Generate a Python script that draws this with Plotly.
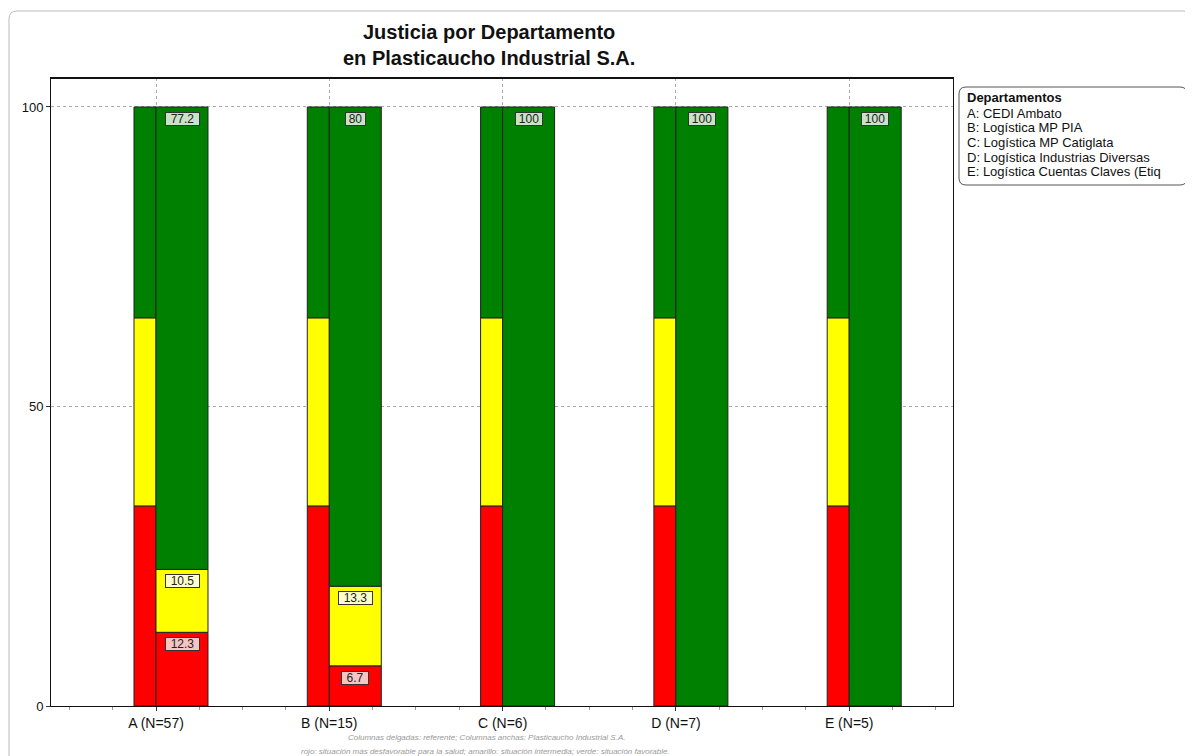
import plotly.graph_objects as go

categories = ["A (N=57)", "B (N=15)", "C (N=6)", "D (N=7)", "E (N=5)"]
ref_red = [33.4, 33.4, 33.4, 33.4, 33.4]
ref_yellow = [31.4, 31.4, 31.4, 31.4, 31.4]
ref_green = [35.2, 35.2, 35.2, 35.2, 35.2]
emp_red = [12.3, 6.7, 0, 0, 0]
emp_yellow = [10.5, 13.3, 0, 0, 0]
emp_green = [77.2, 80, 100, 100, 100]
legend_title = "Departamentos"
legend_items = ["A: CEDI Ambato", "B: Logística MP PIA", "C: Logística MP Catiglata",
                "D: Logística Industrias Diversas", "E: Logística Cuentas Claves (Etiq"]
title_text = "Justicia por Departamento<br>en Plasticaucho Industrial S.A."
note1 = "Columnas delgadas: referente; Columnas anchas: Plasticaucho Industrial S.A."
note2 = "rojo: situación más desfavorable para la salud; amarillo: situación intermedia; verde: situación favorable."

FONT = "Arial, Liberation Sans, sans-serif"
RED, YEL, GRN = "#FF0000", "#FFFF00", "#008000"
LBL_BG = {RED: "#F7C4C4", YEL: "#FFFFCC", GRN: "#C9E3C9"}

idx = list(range(len(categories)))
thin_w, wide_w = 0.127, 0.30
thin_x = [i - thin_w / 2 for i in idx]
wide_x = [i + wide_w / 2 for i in idx]

fig = go.Figure()

def add_stack(xs, w, segs):
    base = [0.0] * len(xs)
    for vals, col in segs:
        fig.add_trace(go.Bar(x=xs, y=vals, base=list(base), width=w,
                             marker=dict(color=col, line=dict(color="#222222", width=1)),
                             showlegend=False, hoverinfo="skip"))
        base = [b + v for b, v in zip(base, vals)]

add_stack(thin_x, thin_w, [(ref_red, RED), (ref_yellow, YEL), (ref_green, GRN)])
add_stack(wide_x, wide_w, [(emp_red, RED), (emp_yellow, YEL), (emp_green, GRN)])

# value labels on wide bars
for j, x in enumerate(wide_x):
    cum = 0.0
    for vals, col in [(emp_red, RED), (emp_yellow, YEL), (emp_green, GRN)]:
        v = vals[j]
        cum += v
        if v > 0:
            txt = "%g" % v
            fig.add_annotation(x=x, y=cum, text=txt, showarrow=False, yanchor="top",
                               yshift=-5, width=7 * len(txt) + 5, height=12,
                               font=dict(family=FONT, size=12, color="#222"),
                               bgcolor=LBL_BG[col], bordercolor="#333333", borderwidth=1,
                               borderpad=0)

# The page body adds an 8px offset; geometry below is in screen pixels.
OFF = 8
FW, FH = 1193 - OFF, 756 - OFF
L, R, T, B = 51, 953, 78, 706
W, H = R - L, B - T
def px(x):
    return (x - L) / W
def py(y):
    return (B - y) / H

def rrect(x0, y0, x1, y1, r):
    X0, X1 = px(x0), px(x1)
    Y0, Y1 = py(y1), py(y0)
    rx, ry = r / W, r / H
    return (f"M {X0+rx},{Y0} L {X1-rx},{Y0} Q {X1},{Y0} {X1},{Y0+ry} "
            f"L {X1},{Y1-ry} Q {X1},{Y1} {X1-rx},{Y1} L {X0+rx},{Y1} "
            f"Q {X0},{Y1} {X0},{Y1-ry} L {X0},{Y0+ry} Q {X0},{Y0} {X0+rx},{Y0} Z")

# legend box
fig.add_shape(type="path", xref="paper", yref="paper", path=rrect(959, 87, 1187, 185, 7),
              line=dict(color="#555555", width=1), fillcolor="white", layer="below")
# outer frame
fig.add_shape(type="path", xref="paper", yref="paper", path=rrect(9, 11, 1191, 775, 8),
              line=dict(color="#BBBBBB", width=1), fillcolor="rgba(0,0,0,0)", layer="below")
# thicker top border of plot
fig.add_shape(type="line", xref="paper", yref="paper", x0=0, x1=1, y0=1, y1=1,
              line=dict(color="#111111", width=2))

leg_lines = ["<b>" + legend_title + "</b>"] + legend_items
leg_y = [97] + [113 + 14.7 * k for k in range(len(legend_items))]
for t, yy in zip(leg_lines, leg_y):
    fig.add_annotation(xref="paper", yref="paper", x=px(965), y=py(yy),
                       xanchor="left", yanchor="middle", text=t, showarrow=False,
                       font=dict(family=FONT, size=13, color="#111"))

fig.add_annotation(xref="paper", yref="paper", x=px(488.5), y=py(45), yanchor="middle",
                   text="<b>" + title_text + "</b>", showarrow=False,
                   font=dict(family=FONT, size=20, color="#111"))

fig.add_annotation(xref="paper", yref="paper", x=px(486), y=py(737), yanchor="middle",
                   text="<i>" + note1 + "</i>", showarrow=False,
                   font=dict(family=FONT, size=8, color="#999999"))
fig.add_annotation(xref="paper", yref="paper", x=px(485), y=py(751), yanchor="middle",
                   text="<i>" + note2 + "</i>", showarrow=False,
                   font=dict(family=FONT, size=8, color="#999999"))

fig.update_layout(
    width=FW, height=FH,
    margin=dict(l=L - OFF, r=FW - (R - OFF), t=T - OFF, b=FH - (B - OFF)),
    paper_bgcolor="white", plot_bgcolor="white",
    barmode="overlay",
    font=dict(family=FONT, size=12, color="#111"),
)
fig.update_xaxes(range=[(L - 156) / 173.3, (R - 156) / 173.3], tickvals=idx, ticktext=categories,
                 showgrid=True, gridcolor="#AAAAAA", griddash="dot", gridwidth=1,
                 ticks="outside", ticklen=4, tickcolor="#333",
                 minor=dict(dtick=0.25, tick0=0, ticks="outside", ticklen=3, tickcolor="#999", showgrid=False),
                 showline=True, linecolor="#111", linewidth=1, mirror=True, zeroline=False,
                 tickfont=dict(family=FONT, size=14, color="#111"))
fig.update_yaxes(range=[0, 104.84], tickvals=[0, 50, 100],
                 showgrid=True, gridcolor="#AAAAAA", griddash="dot", gridwidth=1,
                 ticks="outside", ticklen=4, tickcolor="#333",
                 showline=True, linecolor="#111", linewidth=1, mirror=True, zeroline=False,
                 tickfont=dict(family=FONT, size=13, color="#111"))

fig.write_html("out.html")
